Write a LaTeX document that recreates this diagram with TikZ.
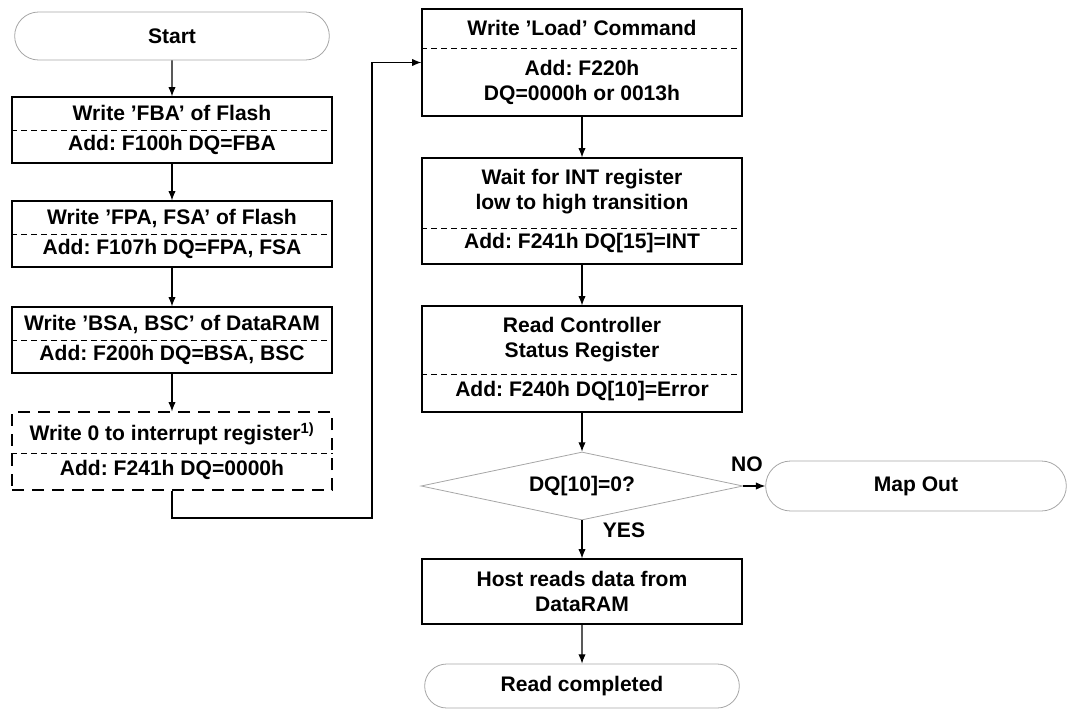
\documentclass[tikz,border=0pt]{standalone}
\usepackage{fontspec}
\setmainfont{Liberation Sans}
\usetikzlibrary{shapes.misc, shapes.geometric, arrows.meta}
\frenchspacing

\begin{document}
\begin{tikzpicture}[x=0.75pt, y=-0.75pt,
        font=\fontsize{15.8}{19}\selectfont\bfseries,
        box/.style={draw, line width=0.9pt, minimum width=240pt, align=center, inner sep=2pt},
        term/.style={draw=gray!70, line width=0.6pt, rounded rectangle, minimum width=240pt, inner sep=2pt},
        flow/.style={line width=0.8pt, -{Latex[length=7pt, width=5.5pt]}},
        divline/.style={line width=0.6pt, dash pattern=on 4.5pt off 3pt}]
        \useasboundingbox (0,0) rectangle (1071,711);

        \node[term, minimum height=36pt] (start) at (172,36) {Start};
        \node[box, minimum height=49.5pt] (fba) at (172,130) {Write ’FBA’ of Flash\\[3pt]Add: F100h DQ=FBA};
        \node[box, minimum height=49.5pt] (fpa) at (172,234) {Write ’FPA, FSA’ of Flash\\[3pt]Add: F107h DQ=FPA, FSA};
        \node[box, minimum height=49.5pt] (bsa) at (172,340) {Write ’BSA, BSC’ of DataRAM\\[3pt]Add: F200h DQ=BSA, BSC};
        \node[box, minimum height=58.5pt, dash pattern=on 9pt off 6pt] (intr) at (172,451) {Write 0 to interrupt register\textsuperscript{1)}\\[7pt]Add: F241h DQ=0000h};

        \node[box, minimum height=80.25pt] (load) at (582,62.5) {Write ’Load’ Command\\[11pt]Add: F220h\\DQ=0000h or 0013h};
        \node[box, minimum height=79.5pt] (wait) at (582,211) {Wait for INT register\\low to high transition\\[10pt]Add: F241h DQ[15]=INT};
        \node[box, minimum height=79.5pt] (status) at (582,359) {Read Controller\\Status Register\\[10pt]Add: F240h DQ[10]=Error};
        \node[draw=gray!70, line width=0.6pt, diamond, aspect=4.7, inner sep=0pt, minimum width=241.5pt, minimum height=51pt] (check) at (582,486) {DQ[10]=0?};
        \node[term, minimum width=229.5pt, minimum height=37.5pt] (mapout) at (916,486) {Map Out};
        \node[box, minimum height=48.75pt] (host) at (582,591.5) {Host reads data from\\DataRAM};
        \node[term, minimum height=33pt] (done) at (582,686) {Read completed};

        \node (no) at (747,464) {NO};
        \node (yes) at (624,530) {YES};
        \coordinate (turn) at (372,518);

        \draw[divline] (fba.west) -- (fba.east);
        \draw[divline] (fpa.west) -- (fpa.east);
        \draw[divline] (bsa.west) -- (bsa.east);
        \draw[divline] ([yshift=-1.5pt]intr.west) -- ([yshift=-1.5pt]intr.east);
        \draw[divline] ([yshift=10.9pt]load.west) -- ([yshift=10.9pt]load.east);
        \draw[divline] ([yshift=-12.75pt]wait.west) -- ([yshift=-12.75pt]wait.east);
        \draw[divline] ([yshift=-11.25pt]status.west) -- ([yshift=-11.25pt]status.east);

        \draw[flow] (start) -- (fba);
        \draw[flow] (fba) -- (fpa);
        \draw[flow] (fpa) -- (bsa);
        \draw[flow] (bsa) -- (intr);
        \draw[flow] (intr.south) |- (turn) |- (load.west);
        \draw[flow] (load) -- (wait);
        \draw[flow] (wait) -- (status);
        \draw[flow] (status) -- (check);
        \draw[flow] (check.east) -- (mapout.west);
        \draw[flow] (check) -- (host);
        \draw[flow] (host) -- (done);
    \end{tikzpicture}
\end{document}
